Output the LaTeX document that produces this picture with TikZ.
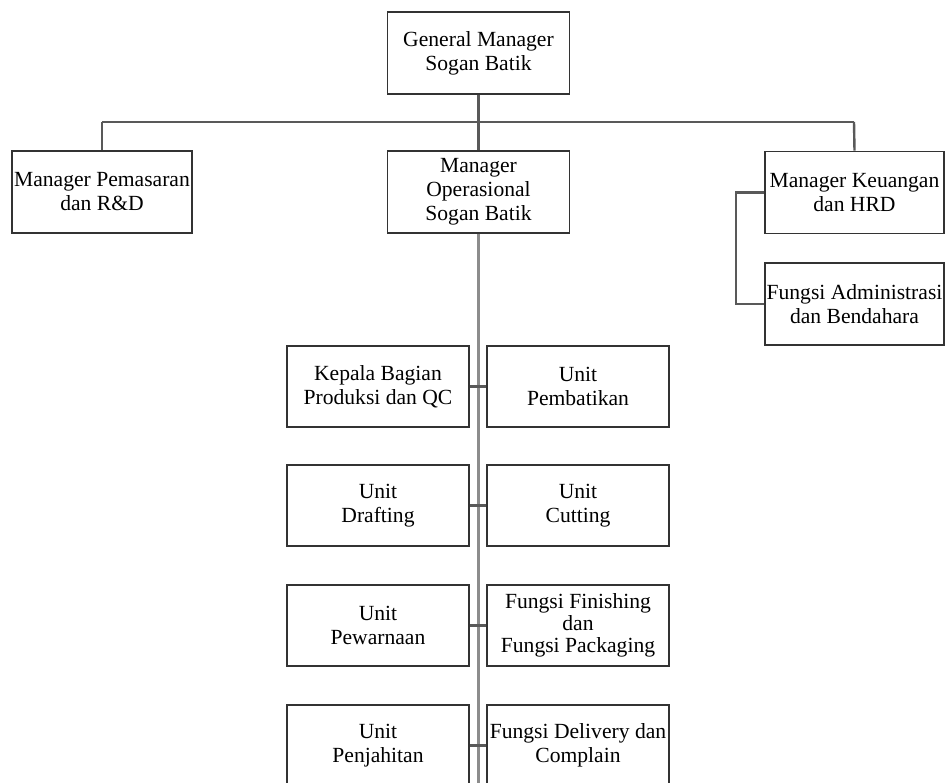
\documentclass[tikz,border=0pt]{standalone}
\usepackage{fontspec}
\setmainfont{Liberation Serif}
\begin{document}
\begin{tikzpicture}[x=0.75pt,y=-0.75pt,
  box/.style={draw=black!80,line width=1.2pt,align=center,inner sep=1pt,
    font=\fontsize{16.2}{18}\selectfont,minimum height=61.5pt},
  wbox/.style={box,minimum width=136.5pt},
  link/.style={draw=black!65,line width=1.8pt},
  spine/.style={draw=black!45,line width=2.4pt}]
\useasboundingbox (0,0) rectangle (946,782);
\clip (0,0) rectangle (946,782);
\fill[white] (0,0) rectangle (946,782);
% top
\node[wbox] (gm) at (478.5,53) {General Manager\\Sogan Batik};
\node[box,minimum width=135pt] (mp) at (102,192) {Manager Pemasaran\\dan R\&D};
\node[wbox] (mo) at (478.5,192) {Manager\\Operasional\\Sogan Batik};
\node[box,minimum width=134pt] (mk) at (854.5,192.5) {Manager Keuangan\\dan HRD};
\node[box,minimum width=134pt] (fa) at (854.5,304) {Fungsi Administrasi\\dan Bendahara};
% rows
\node[wbox,minimum height=60.75pt] (kb) at (378,386.5) {Kepala Bagian\\Produksi dan QC};
\node[wbox,minimum height=60.75pt] (up) at (578,386.5) {Unit\\Pembatikan};
\node[wbox,minimum height=60.75pt] (ud) at (378,505.5) {Unit\\Drafting};
\node[wbox,minimum height=60.75pt] (uc) at (578,505.5) {Unit\\Cutting};
\node[wbox,minimum height=60.75pt] (uw) at (378,625.5) {Unit\\Pewarnaan};
\node[wbox,minimum height=60.75pt,font=\fontsize{16.2}{16.5}\selectfont] (ff) at (578,625.5) {Fungsi Finishing\\dan\\Fungsi Packaging};
\node[wbox,minimum height=60.75pt] (uj) at (378,745.5) {Unit\\Penjahitan};
\node[wbox,minimum height=60.75pt] (fd) at (578,745.5) {Fungsi Delivery dan\\Complain};
% connectors
\coordinate (hl) at (102,122);
\coordinate (hr) at (854,122);
\coordinate (bot) at (478.5,800);
\coordinate (br) at (736,192.5);
\draw[link] (gm.south) -- (mo.north);
\draw[link] (hl) -- (hr);
\draw[link] (hl) -- (mp.north);
\draw[link] (hr) -- (mk.north);
\draw[spine] (mo.south) -- (bot);
\draw[link] (mk.west) -- (br) |- (fa.west);
\draw[link] (kb.east) -- (up.west);
\draw[link] (ud.east) -- (uc.west);
\draw[link] (uw.east) -- (ff.west);
\draw[link] (uj.east) -- (fd.west);
\end{tikzpicture}
\end{document}
